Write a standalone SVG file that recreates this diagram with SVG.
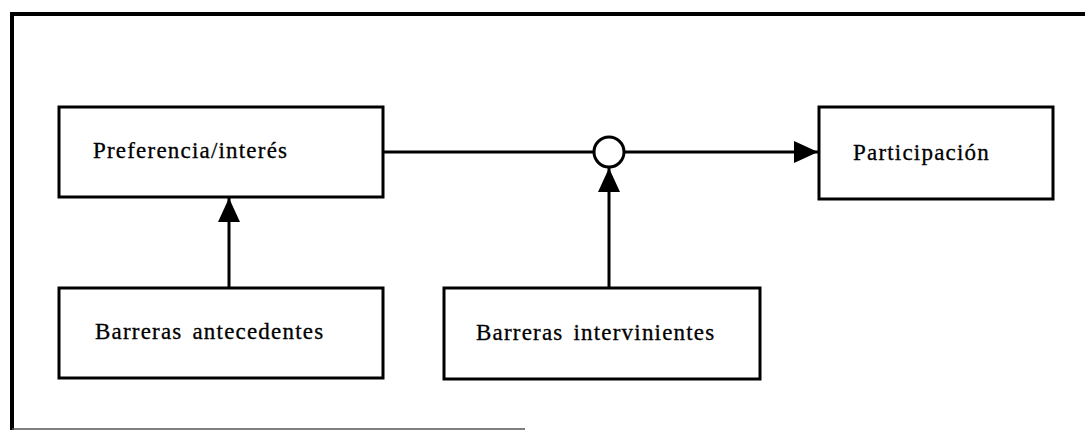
<svg xmlns="http://www.w3.org/2000/svg" width="1085" height="432" viewBox="0 0 1085 432">
  <style>
    .box { fill: #fff; stroke: #000; stroke-width: 3; }
    .lbl { font-family: "Liberation Serif", "Times New Roman", serif; font-size: 23px; letter-spacing: 1.2px; fill: #000; stroke: #000; stroke-width: 0.3; }
    .wire { stroke: #000; stroke-width: 3; fill: none; }
  </style>
  <defs>
    <marker id="tri" viewBox="0 0 24 22" refX="24" refY="11" markerWidth="24" markerHeight="22" markerUnits="userSpaceOnUse" orient="auto">
      <path d="M0,0 L24,11 L0,22 Z" fill="#000"/>
    </marker>
  </defs>

  <!-- outer frame -->
  <g id="frame">
    <line x1="12" y1="14" x2="1085" y2="14" stroke="#000" stroke-width="4"/>
    <line x1="12" y1="12" x2="12" y2="430" stroke="#000" stroke-width="4"/>
    <line x1="12" y1="429" x2="525" y2="429" stroke="#555" stroke-width="1.5"/>
  </g>

  <g id="connectors">
    <line class="wire" x1="383" y1="152" x2="594" y2="152"/>
    <line class="wire" x1="624" y1="152" x2="818" y2="152" marker-end="url(#tri)"/>
    <line class="wire" x1="229" y1="288" x2="229" y2="198" marker-end="url(#tri)"/>
    <line class="wire" x1="609" y1="288" x2="609" y2="168" marker-end="url(#tri)"/>
  </g>

  <g id="junction">
    <circle cx="609" cy="152" r="15" fill="#fff" stroke="#000" stroke-width="3"/>
  </g>

  <g id="preferencia">
    <rect class="box" x="59" y="107" width="324" height="90"/>
    <text class="lbl" x="93" y="158">Preferencia/interés</text>
  </g>

  <g id="participacion">
    <rect class="box" x="819" y="107" width="234" height="92"/>
    <text class="lbl" x="853" y="160">Participación</text>
  </g>

  <g id="antecedentes">
    <rect class="box" x="59" y="288" width="324" height="90"/>
    <text class="lbl" x="95" y="339" word-spacing="3">Barreras antecedentes</text>
  </g>

  <g id="intervinientes">
    <rect class="box" x="444" y="288" width="316" height="91"/>
    <text class="lbl" x="476" y="340" word-spacing="3">Barreras intervinientes</text>
  </g>
</svg>
